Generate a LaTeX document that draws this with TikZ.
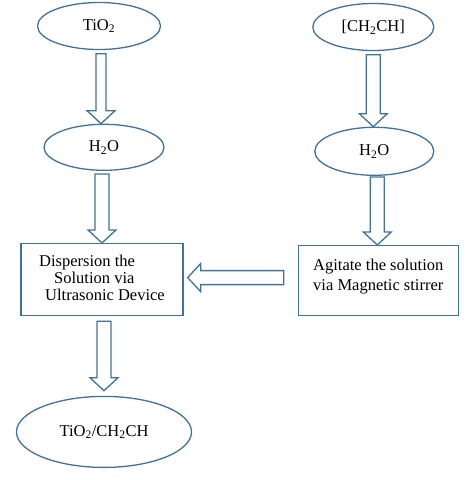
\documentclass[tikz,border=0pt]{standalone}
\usepackage{fontspec}
\setmainfont{Liberation Serif}
\usetikzlibrary{positioning,shapes.geometric,calc}
\definecolor{flowblue}{RGB}{65,113,156}

% hollow block arrow from #2 to the tip #3, shaft half width #1
\newcommand{\blockarrow}[3][7]{%
  \draw[hollow] let \p1=(#2), \p2=(#3), \n1={veclen(\x2-\x1,\y2-\y1)},
    \n2={atan2(\y2-\y1,\x2-\x1)}, \n3={\n1-13} in
    [shift={(\p1)}, rotate=\n2]
    (0,#1) -- (\n3,#1) -- (\n3,14) -- (\n1,0) -- (\n3,-14) -- (\n3,-#1) -- (0,-#1) -- cycle;
}

\begin{document}
\begin{tikzpicture}[
  x=1pt, y=-1pt,
  every node/.style={font=\fontsize{16.5}{17}\selectfont},
  bubble/.style={ellipse, draw=flowblue, line width=1.3pt, inner sep=0pt},
  stepbox/.style={rectangle, draw=flowblue, line width=1.3pt, inner sep=0pt},
  hollow/.style={draw=flowblue, line width=1.3pt, line join=miter}
]
  \useasboundingbox (0,0) rectangle (467,480);

  % left branch
  \node[bubble, minimum width=123pt, minimum height=47pt] (tio) at (99,26) {TiO\textsubscript{2}};
  \node[bubble, minimum width=120pt, minimum height=46pt, below=73.5pt of tio, xshift=5pt] (wl) {H\textsubscript{2}O};
  \node[stepbox, minimum width=162pt, minimum height=72pt, below=72pt of wl, xshift=-2pt] (disp) {%
    \begin{tabular}{@{}l@{}}Dispersion the\\\hspace*{15pt}Solution via\\\hspace*{6pt}Ultrasonic Device\end{tabular}};
  \node[bubble, minimum width=175pt, minimum height=71pt, below=79.5pt of disp, xshift=2pt] (prod) {TiO\textsubscript{2}/CH\textsubscript{2}CH};

  % right branch
  \node[bubble, minimum width=121pt, minimum height=47pt, right=151pt of tio, yshift=-1pt] (chch) {[CH\textsubscript{2}CH]};
  \node[bubble, minimum width=119pt, minimum height=48pt, below=75.5pt of chch, xshift=1pt] (wr) {H\textsubscript{2}O};
  \node[stepbox, minimum width=160pt, minimum height=70pt, below=69pt of wr, xshift=4pt] (agit) {%
    \raisebox{4pt}[\height][\depth]{\begin{tabular}{@{}l@{}}Agitate the solution\\[3pt]via Magnetic stirrer\end{tabular}}};

  % Arrows
  \blockarrow[5]{$(tio.south)+(2,3.5)$}{$(wl.north)+(-3,0)$}
  \blockarrow{$(wl.south)+(-2,3)$}{disp.north}
  \blockarrow{$(chch.south)+(0,3.5)$}{$(wr.north)+(-1,0)$}
  \blockarrow{$(wr.south)+(3,1)$}{$(agit.north)+(-1,0)$}
  \blockarrow{$(agit.west)+(-14,-3)$}{$(disp.east)+(4,-2)$}
  \blockarrow{$(disp.south)+(2,5)$}{$(prod.north)+(0,-5)$}
\end{tikzpicture}
\end{document}
